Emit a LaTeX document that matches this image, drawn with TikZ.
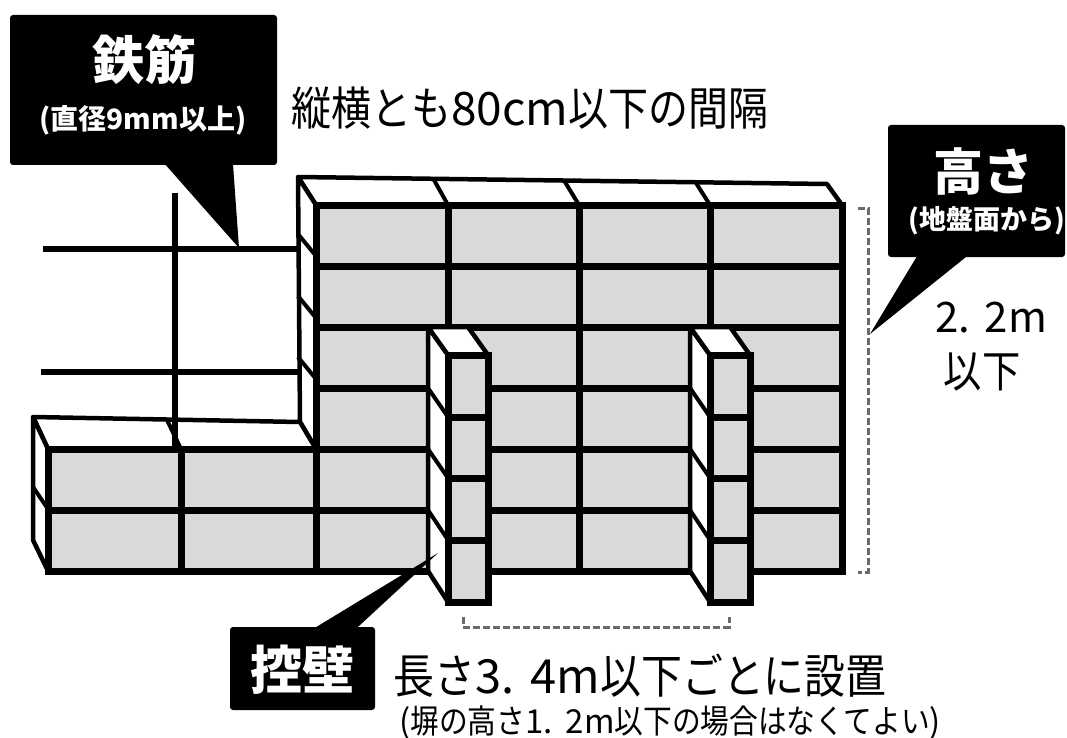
\documentclass[tikz,border=0pt]{standalone}
\usepackage{fontspec}
\newfontfamily\jpr[FakeStretch=0.87]{Noto Sans CJK JP}
\newfontfamily\jpl{Noto Sans CJK JP}
\newfontfamily\jpb{Noto Sans CJK JP}
\newcommand\lat[1]{{\jpl #1}}
\definecolor{brick}{HTML}{D9D9D9}
\definecolor{dimgray}{HTML}{6A6A6A}
\begin{document}
\begin{tikzpicture}[x=1pt,y=-1pt,
  face/.style={fill=brick, draw=black, line width=7pt},
  joint/.style={draw=black, line width=7pt},
  sideface/.style={fill=white, draw=black, line width=4.5pt, line join=round},
  thinjoint/.style={draw=black, line width=4pt},
  rebar/.style={draw=black, line width=6.5pt},
  dimline/.style={draw=dimgray, line width=3pt, dash pattern=on 7pt off 3pt},
  cbox/.style={fill=black, rounded corners=3pt, inner sep=0pt, draw=none},
  ctext/.style={text=white, inner sep=0pt},
  txt/.style={inner sep=0pt, text=black},
]
\useasboundingbox (0,0) rectangle (1067,738);

% ---- main wall top face and left side face
\draw[sideface] (298,177) -- (827,184) -- (842,205) -- (316,205) -- cycle;
\draw[thinjoint] (434,180) -- (448,205) (565,182) -- (579,205) (696,183) -- (710,205);
\draw[sideface] (298,177) -- (316,205) -- (316,449) -- (300,422) -- cycle;
\draw[thinjoint] (298,234) -- (316,256) (298,296) -- (316,318) (298,357) -- (316,379);

% ---- low wall top and side faces
\draw[sideface] (33,417) -- (300,422) -- (316,449) -- (48,449) -- cycle;
\draw[thinjoint] (167,420) -- (181,449);
\draw[sideface] (33,417) -- (48,449) -- (48,571) -- (33,540) -- cycle;
\draw[thinjoint] (33,487) -- (48,509);

% ---- rebar
\coordinate (rh1a) at (43,249);
\coordinate (rh1b) at (301,249);
\coordinate (rh2a) at (41,372);
\coordinate (rh2b) at (301,372);
\coordinate (rva) at (175,193);
\coordinate (rvb) at (175,447);
\draw[rebar] (rh1a) -- (rh1b);
\draw[rebar] (rh2a) -- (rh2b);
\draw[rebar] (rva) -- (rvb);

% ---- front face of the wall
\draw[face] (48,449) -- (316,449) -- (316,205) -- (842,205) -- (842,571) -- (48,571) -- cycle;
\draw[joint] (316,266) -- (842,266) (316,327) -- (842,327) (316,388) -- (842,388)
             (316,449) -- (842,449) (48,510) -- (842,510);
\draw[joint] (448,205) -- (448,571) (579,205) -- (579,571) (710,205) -- (710,571)
             (181,449) -- (181,571) (316,449) -- (316,571);

% ---- buttresses (pilasters)
\foreach \bx in {428,690}{
  \draw[sideface] (\bx,327) -- (\bx+20,355) -- (\bx+20,602) -- (\bx,571) -- cycle;
  \draw[thinjoint] (\bx,388) -- (\bx+20,417) (\bx,449) -- (\bx+20,478) (\bx,510) -- (\bx+20,540);
  \draw[sideface] (\bx,327) -- (\bx+40,327) -- (\bx+60,355) -- (\bx+20,355) -- cycle;
  \draw[face] (\bx+20,355) rectangle (\bx+60,602);
  \draw[joint] (\bx+20,417) -- (\bx+60,417) (\bx+20,478) -- (\bx+60,478) (\bx+20,540) -- (\bx+60,540);
}

% ---- dimension brackets
\draw[dimline] (858,208) -- (868,208) -- (868,572) -- (858,572);
\draw[dimline] (463,617) -- (463,627) -- (729,627) -- (729,617);

% ---- callout: rebar
\node[cbox, minimum width=267pt, minimum height=150pt] (tk) at (143.5,90) {};
\coordinate (tktip) at (239,248);
\fill ([xshift=21.5pt,yshift=1pt]tk.south) -- (tktip) -- ([xshift=89.5pt,yshift=1pt]tk.south) -- cycle;
\node[ctext, font=\jpb\bfseries\fontsize{52pt}{52pt}\selectfont] (tkt) at (144,60) {鉄筋};
\node[ctext, font=\jpb\bfseries\fontsize{28pt}{28pt}\selectfont] (tks) at (143,120) {(直径9mm以上)};

% ---- callout: height
\node[cbox, minimum width=177pt, minimum height=132pt] (tk2) at (976.5,191) {};
\coordinate (tk2tip) at (870,334);
\fill ([xshift=-59.5pt,yshift=1pt]tk2.south) -- (tk2tip) -- ([xshift=-9.5pt,yshift=1pt]tk2.south) -- cycle;
\node[ctext, font=\jpb\bfseries\fontsize{50pt}{50pt}\selectfont] (tk2t) at (983,171) {高さ};
\node[ctext, font=\jpb\bfseries\fontsize{27pt}{27pt}\selectfont] (tk2s) at (987,221) {(地盤面から)};

% ---- callout: buttress
\node[cbox, minimum width=145pt, minimum height=83pt] (tk3) at (302.5,668.5) {};
\coordinate (tk3tip) at (438,553);
\fill ([xshift=12.5pt,yshift=-1pt]tk3.north) -- (tk3tip) -- ([xshift=54.5pt,yshift=-1pt]tk3.north) -- cycle;
\node[ctext, font=\jpb\bfseries\fontsize{52pt}{52pt}\selectfont] (tk3t) at (302,670) {控壁};

% ---- plain texts
\node[txt, font=\jpr\fontsize{46pt}{46pt}\selectfont] (title) at (530,108) {縦横とも\lat{80cm}以下の間隔};
\node[txt, font=\jpr\fontsize{42pt}{42pt}\selectfont] (hval) at (991,318) {\lat{2.\kern0.35em 2m}};
\node[txt, font=\jpr\fontsize{44pt}{44pt}\selectfont] (hval2) at (982,372) {以下};
\node[txt, font=\jpr\fontsize{47pt}{47pt}\selectfont] (bval) at (640,676) {長さ\lat{3.\kern0.35em 4m}以下ごとに設置};
\node[txt, font=\jpr\fontsize{33pt}{33pt}\selectfont] (bnote) at (670,723) {\lat{(}塀の高さ\lat{1.\kern0.4em 2m}以下の場合はなくてよい\lat{)}};
\end{tikzpicture}
\end{document}
